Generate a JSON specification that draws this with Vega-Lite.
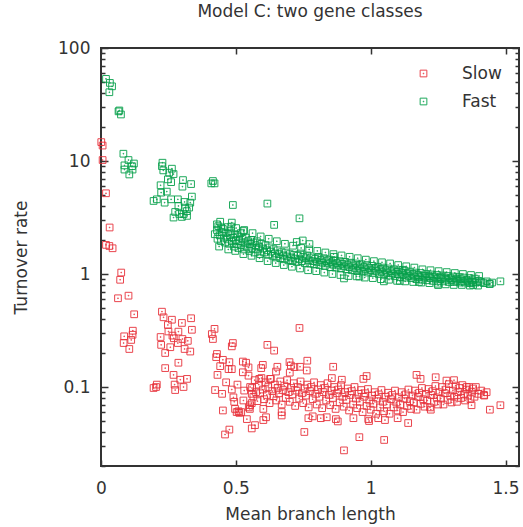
{
"$schema":"https://vega.github.io/schema/vega-lite/v6.json",
"width":418,"height":418,
"autosize":"none",
"padding":{"left":101,"top":48,"right":4,"bottom":61},
"title":{"text":"Model C: two gene classes","font":"DejaVu Sans","fontSize":17,"fontWeight":"normal","color":"#333","offset":18},
"config":{"view":{"stroke":"#333","strokeWidth":2},"font":"DejaVu Sans"},
"resolve":{"axis":{"x":"independent","y":"independent"}},
"datasets":{
"fast":[
{"x":0.0185,"y":53.3},{"x":0.033,"y":49.1},{"x":0.041,"y":45.8},{"x":0.031,"y":40.6},{"x":0.068,"y":28},{"x":0.074,"y":25.8},{"x":0.065,"y":27.5},
{"x":0.083,"y":11.6},{"x":0.102,"y":10.2},{"x":0.087,"y":9.15},{"x":0.115,"y":9.0},{"x":0.122,"y":9.5},{"x":0.087,"y":8.4},{"x":0.105,"y":7.6},{"x":0.117,"y":8.4},
{"x":0.228,"y":9.66},{"x":0.226,"y":9.0},{"x":0.231,"y":8.26},{"x":0.263,"y":8.55},{"x":0.253,"y":7.88},{"x":0.269,"y":7.66},{"x":0.248,"y":6.88},{"x":0.26,"y":6.5},{"x":0.304,"y":6.78},{"x":0.302,"y":5.93},{"x":0.334,"y":6.25},{"x":0.221,"y":6.1},{"x":0.223,"y":5.25},{"x":0.244,"y":5.36},{"x":0.26,"y":4.58},{"x":0.236,"y":4.28},{"x":0.195,"y":4.43},{"x":0.207,"y":4.58},{"x":0.285,"y":4.58},{"x":0.287,"y":4.0},{"x":0.31,"y":4.34},{"x":0.331,"y":4.28},{"x":0.337,"y":4.84},{"x":0.275,"y":3.54},{"x":0.312,"y":3.87},{"x":0.327,"y":3.87},{"x":0.269,"y":3.16},{"x":0.306,"y":3.38},{"x":0.319,"y":3.27},{"x":0.415,"y":6.65},{"x":0.421,"y":6.34},{"x":0.409,"y":6.34},{"x":0.489,"y":4.08},{"x":0.3,"y":3.2},{"x":0.29,"y":3.4},{"x":0.318,"y":3.6},
{"x":0.617,"y":4.2},{"x":0.736,"y":3.11},{"x":0.642,"y":2.72},{"x":0.726,"y":1.92},{"x":0.748,"y":1.98},{"x":0.773,"y":1.84},{"x":0.864,"y":1.42},
{"x":0.43,"y":2.75},{"x":0.422,"y":2.25},{"x":0.446,"y":2.58},{"x":0.483,"y":2.63},{"x":0.485,"y":2.85},{"x":0.528,"y":2.4},
{"x":0.430,"y":2.45},{"x":0.432,"y":2.05},{"x":0.435,"y":2.65},{"x":0.440,"y":2.2},{"x":0.445,"y":1.95},{"x":0.448,"y":2.35},{"x":0.452,"y":2.5},{"x":0.455,"y":2.1},{"x":0.46,"y":1.9},{"x":0.462,"y":2.3},{"x":0.468,"y":2.05},{"x":0.47,"y":2.6},{"x":0.475,"y":1.85},{"x":0.478,"y":2.2},{"x":0.482,"y":2.4},{"x":0.485,"y":1.95},{"x":0.49,"y":2.1},{"x":0.493,"y":1.75},{"x":0.497,"y":2.25},{"x":0.50,"y":2.0},{"x":0.503,"y":1.85},{"x":0.507,"y":2.15},{"x":0.51,"y":1.7},{"x":0.514,"y":1.95},{"x":0.518,"y":2.3},{"x":0.52,"y":1.8},{"x":0.525,"y":2.05},{"x":0.53,"y":1.65},{"x":0.533,"y":1.9},{"x":0.537,"y":2.1},{"x":0.54,"y":1.75},{"x":0.545,"y":1.95},{"x":0.55,"y":1.6},{"x":0.553,"y":1.85},{"x":0.557,"y":2.0},{"x":0.56,"y":1.7},{"x":0.565,"y":1.9},{"x":0.57,"y":1.55},{"x":0.573,"y":1.8},{"x":0.578,"y":1.95},{"x":0.582,"y":1.65},{"x":0.586,"y":1.75},{"x":0.59,"y":1.5},{"x":0.595,"y":1.85},{"x":0.60,"y":1.68},{"x":0.605,"y":1.55},{"x":0.61,"y":1.8},{"x":0.615,"y":1.62},{"x":0.62,"y":1.48},{"x":0.625,"y":1.72},{"x":0.63,"y":1.58},{"x":0.636,"y":1.45},{"x":0.64,"y":1.66},{"x":0.645,"y":1.52},{"x":0.65,"y":1.4},{"x":0.655,"y":1.62},{"x":0.66,"y":1.5},{"x":0.665,"y":1.38},{"x":0.67,"y":1.56},{"x":0.676,"y":1.46},{"x":0.68,"y":1.35},{"x":0.686,"y":1.55},{"x":0.69,"y":1.43},{"x":0.695,"y":1.32},{"x":0.70,"y":1.5},{"x":0.705,"y":1.4},{"x":0.71,"y":1.3},{"x":0.716,"y":1.48},{"x":0.72,"y":1.37},{"x":0.725,"y":1.28},{"x":0.73,"y":1.45},{"x":0.736,"y":1.35},{"x":0.74,"y":1.52},{"x":0.745,"y":1.3},{"x":0.75,"y":1.42},{"x":0.756,"y":1.25},{"x":0.76,"y":1.38},{"x":0.765,"y":1.46},{"x":0.77,"y":1.32},{"x":0.776,"y":1.24},{"x":0.78,"y":1.4},{"x":0.786,"y":1.3},{"x":0.79,"y":1.22},{"x":0.795,"y":1.36},{"x":0.80,"y":1.28},{"x":0.806,"y":1.42},{"x":0.81,"y":1.2},{"x":0.815,"y":1.33},{"x":0.82,"y":1.26},{"x":0.826,"y":1.38},{"x":0.83,"y":1.18},{"x":0.835,"y":1.3},{"x":0.84,"y":1.24},{"x":0.846,"y":1.34},{"x":0.85,"y":1.15},{"x":0.855,"y":1.27},{"x":0.86,"y":1.21},{"x":0.866,"y":1.32},{"x":0.87,"y":1.14},{"x":0.875,"y":1.25},{"x":0.88,"y":1.19},{"x":0.886,"y":1.3},{"x":0.89,"y":1.12},{"x":0.895,"y":1.23},{"x":0.90,"y":1.17},{"x":0.906,"y":1.28},{"x":0.91,"y":1.1},{"x":0.915,"y":1.21},{"x":0.92,"y":1.15},{"x":0.926,"y":1.26},{"x":0.93,"y":1.08},{"x":0.935,"y":1.19},{"x":0.94,"y":1.13},{"x":0.946,"y":1.24},{"x":0.95,"y":1.06},{"x":0.955,"y":1.17},{"x":0.96,"y":1.12},{"x":0.966,"y":1.22},{"x":0.97,"y":1.05},{"x":0.975,"y":1.15},{"x":0.98,"y":1.1},{"x":0.986,"y":1.2},{"x":0.99,"y":1.03},{"x":0.995,"y":1.13},{"x":1.00,"y":1.08},{"x":1.006,"y":1.18},{"x":1.01,"y":1.02},{"x":1.016,"y":1.12},{"x":1.02,"y":1.07},{"x":1.026,"y":1.16},{"x":1.03,"y":1.0},{"x":1.036,"y":1.1},{"x":1.04,"y":1.05},{"x":1.046,"y":1.14},{"x":1.05,"y":0.99},{"x":1.056,"y":1.08},{"x":1.06,"y":1.03},{"x":1.066,"y":1.12},{"x":1.07,"y":0.97},{"x":1.076,"y":1.06},{"x":1.08,"y":1.01},{"x":1.086,"y":1.1},{"x":1.09,"y":0.96},{"x":1.096,"y":1.05},{"x":1.10,"y":1.0},{"x":1.106,"y":1.08},{"x":1.11,"y":0.94},{"x":1.116,"y":1.03},{"x":1.12,"y":0.98},{"x":1.126,"y":1.07},{"x":1.13,"y":0.93},{"x":1.136,"y":1.01},{"x":1.14,"y":0.96},{"x":1.146,"y":1.05},{"x":1.15,"y":0.92},{"x":1.156,"y":1.0},{"x":1.16,"y":0.95},{"x":1.166,"y":1.03},{"x":1.17,"y":0.9},{"x":1.176,"y":0.98},{"x":1.18,"y":0.94},{"x":1.186,"y":1.02},{"x":1.19,"y":0.89},{"x":1.196,"y":0.97},{"x":1.20,"y":0.93},{"x":1.206,"y":1.0},{"x":1.21,"y":0.88},{"x":1.216,"y":0.96},{"x":1.22,"y":0.92},{"x":1.226,"y":0.99},{"x":1.23,"y":0.87},{"x":1.236,"y":0.95},{"x":1.24,"y":0.91},{"x":1.246,"y":0.98},{"x":1.25,"y":0.86},{"x":1.256,"y":0.94},{"x":1.26,"y":0.9},{"x":1.266,"y":0.97},{"x":1.27,"y":0.86},{"x":1.276,"y":0.93},{"x":1.28,"y":0.89},{"x":1.286,"y":0.96},{"x":1.29,"y":0.85},{"x":1.296,"y":0.92},{"x":1.30,"y":0.88},{"x":1.306,"y":0.95},{"x":1.31,"y":0.85},{"x":1.316,"y":0.91},{"x":1.32,"y":0.87},{"x":1.326,"y":0.94},{"x":1.33,"y":0.84},{"x":1.336,"y":0.9},{"x":1.34,"y":0.86},{"x":1.346,"y":0.93},{"x":1.35,"y":0.84},{"x":1.356,"y":0.89},{"x":1.36,"y":0.86},{"x":1.366,"y":0.92},{"x":1.37,"y":0.83},{"x":1.376,"y":0.88},{"x":1.38,"y":0.85},{"x":1.386,"y":0.91},{"x":1.39,"y":0.84},{"x":1.40,"y":0.87},{"x":1.41,"y":0.85},{"x":1.42,"y":0.83},{"x":1.43,"y":0.86},{"x":1.44,"y":0.82},{"x":1.45,"y":0.84},
{"x":0.901,"y":0.914},{"x":1.442,"y":0.815},{"x":1.481,"y":0.861},{"x":1.25,"y":0.798},{"x":1.38,"y":0.8},{"x":1.179,"y":0.85},{"x":1.049,"y":0.861},{"x":1.108,"y":0.87},{"x":1.118,"y":1.09},{"x":0.948,"y":0.953},
{"x":0.442,"y":2.9},{"x":0.438,"y":1.75},{"x":0.472,"y":1.65},{"x":0.501,"y":2.55},{"x":0.498,"y":1.6},{"x":0.531,"y":2.45},{"x":0.528,"y":1.5},{"x":0.562,"y":2.3},{"x":0.558,"y":1.45},{"x":0.592,"y":2.15},{"x":0.588,"y":1.38},{"x":0.622,"y":2.05},{"x":0.618,"y":1.3},{"x":0.652,"y":1.95},{"x":0.648,"y":1.25},{"x":0.682,"y":1.85},{"x":0.678,"y":1.2},{"x":0.712,"y":1.78},{"x":0.708,"y":1.16},{"x":0.742,"y":1.7},{"x":0.738,"y":1.12},{"x":0.772,"y":1.65},{"x":0.768,"y":1.08},{"x":0.802,"y":1.6},{"x":0.798,"y":1.06},{"x":0.832,"y":1.55},{"x":0.828,"y":1.03},{"x":0.862,"y":1.5},{"x":0.858,"y":1.0},{"x":0.892,"y":1.46},{"x":0.888,"y":0.98},{"x":0.922,"y":1.42},{"x":0.918,"y":0.96},{"x":0.952,"y":1.38},{"x":0.958,"y":0.95},{"x":0.982,"y":1.34},{"x":0.978,"y":0.93},{"x":1.012,"y":1.3},{"x":1.008,"y":0.92},{"x":1.042,"y":1.27},{"x":1.038,"y":0.9},{"x":1.072,"y":1.24},{"x":1.068,"y":0.89},{"x":1.102,"y":1.2},{"x":1.098,"y":0.87},{"x":1.132,"y":1.17},{"x":1.128,"y":0.86},{"x":1.162,"y":1.14},{"x":1.158,"y":0.85},{"x":1.192,"y":1.1},{"x":1.188,"y":0.84},{"x":1.222,"y":1.08},{"x":1.218,"y":0.83},{"x":1.252,"y":1.06},{"x":1.248,"y":0.82},{"x":1.282,"y":1.04},{"x":1.278,"y":0.81},{"x":1.312,"y":1.02},{"x":1.308,"y":0.8},{"x":1.342,"y":1.0},{"x":1.338,"y":0.8},{"x":1.372,"y":0.98},{"x":1.368,"y":0.79},{"x":1.402,"y":0.96},{"x":1.398,"y":0.79}
],
"slow":[
{"x":0.001,"y":14.7},{"x":0.006,"y":13.7},{"x":0.006,"y":10.2},{"x":0.0185,"y":5.18},{"x":0.032,"y":2.58},{"x":0.0185,"y":1.81},{"x":0.031,"y":1.77},{"x":0.043,"y":1.69},{"x":0.075,"y":1.03},{"x":0.071,"y":0.889},{"x":0.063,"y":0.61},{"x":0.102,"y":0.643},{"x":0.123,"y":0.44},{"x":0.118,"y":0.315},{"x":0.086,"y":0.281},{"x":0.084,"y":0.245},{"x":0.112,"y":0.261},{"x":0.105,"y":0.217},{"x":0.117,"y":0.29},
{"x":0.226,"y":0.464},{"x":0.232,"y":0.414},{"x":0.263,"y":0.394},{"x":0.248,"y":0.354},{"x":0.334,"y":0.406},{"x":0.3,"y":0.369},{"x":0.337,"y":0.321},{"x":0.287,"y":0.309},{"x":0.265,"y":0.285},{"x":0.221,"y":0.277},{"x":0.223,"y":0.236},{"x":0.257,"y":0.225},{"x":0.238,"y":0.2},{"x":0.302,"y":0.266},{"x":0.322,"y":0.256},{"x":0.31,"y":0.217},{"x":0.331,"y":0.206},{"x":0.287,"y":0.164},{"x":0.238,"y":0.147},{"x":0.269,"y":0.128},{"x":0.294,"y":0.116},{"x":0.319,"y":0.118},{"x":0.273,"y":0.105},{"x":0.306,"y":0.1},{"x":0.275,"y":0.094},{"x":0.207,"y":0.105},{"x":0.195,"y":0.098},{"x":0.204,"y":0.1},{"x":0.285,"y":0.245},{"x":0.27,"y":0.27},{"x":0.25,"y":0.31},
{"x":0.421,"y":0.327},{"x":0.411,"y":0.294},{"x":0.415,"y":0.266},{"x":0.489,"y":0.245},{"x":0.485,"y":0.229},{"x":0.43,"y":0.196},{"x":0.427,"y":0.184},{"x":0.442,"y":0.153},{"x":0.452,"y":0.174},{"x":0.476,"y":0.166},{"x":0.473,"y":0.144},{"x":0.485,"y":0.144},{"x":0.526,"y":0.168},{"x":0.538,"y":0.164},{"x":0.526,"y":0.135},{"x":0.432,"y":0.128},{"x":0.464,"y":0.11},{"x":0.506,"y":0.105},{"x":0.423,"y":0.094},{"x":0.449,"y":0.087},{"x":0.485,"y":0.095},{"x":0.531,"y":0.093},{"x":0.528,"y":0.076},{"x":0.491,"y":0.081},{"x":0.494,"y":0.074},{"x":0.51,"y":0.061},{"x":0.452,"y":0.062},{"x":0.476,"y":0.042},{"x":0.46,"y":0.038},{"x":0.547,"y":0.149},{"x":0.547,"y":0.126},{"x":0.553,"y":0.1},{"x":0.559,"y":0.087},{"x":0.553,"y":0.069},{"x":0.541,"y":0.052},{"x":0.559,"y":0.043},{"x":0.52,"y":0.06},{"x":0.559,"y":0.072},{"x":0.571,"y":0.046},{"x":0.612,"y":0.054},{"x":0.602,"y":0.051},{"x":0.67,"y":0.056},{"x":0.602,"y":0.064},{"x":0.67,"y":0.06},{"x":0.503,"y":0.06},{"x":0.497,"y":0.064},{"x":0.513,"y":0.059},{"x":0.548,"y":0.066},{"x":0.552,"y":0.064},
{"x":0.736,"y":0.333},{"x":0.617,"y":0.236},{"x":0.642,"y":0.21},{"x":0.6,"y":0.157},{"x":0.594,"y":0.147},{"x":0.654,"y":0.151},{"x":0.649,"y":0.137},{"x":0.699,"y":0.166},{"x":0.704,"y":0.155},{"x":0.717,"y":0.15},{"x":0.738,"y":0.151},{"x":0.765,"y":0.171},{"x":0.763,"y":0.14},{"x":0.7,"y":0.134},{"x":0.861,"y":0.151},{"x":0.587,"y":0.118},{"x":0.627,"y":0.118},{"x":0.856,"y":0.12},{"x":0.893,"y":0.116},{"x":0.973,"y":0.118},{"x":0.985,"y":0.125},{"x":1.17,"y":0.128},{"x":1.185,"y":0.118},{"x":1.241,"y":0.122},{"x":1.281,"y":0.114},{"x":1.309,"y":0.115},{"x":1.356,"y":0.1},{"x":1.421,"y":0.084},{"x":1.442,"y":0.063},{"x":1.481,"y":0.069},{"x":1.374,"y":0.069},{"x":1.223,"y":0.063},
{"x":0.754,"y":0.04},{"x":0.769,"y":0.053},{"x":0.785,"y":0.055},{"x":0.815,"y":0.053},{"x":0.837,"y":0.054},{"x":0.871,"y":0.052},{"x":0.878,"y":0.0496},{"x":0.936,"y":0.053},{"x":0.958,"y":0.036},{"x":0.901,"y":0.0275},{"x":0.991,"y":0.052},{"x":1.139,"y":0.048},{"x":1.1,"y":0.053},{"x":1.05,"y":0.034},{"x":1.053,"y":0.051},{"x":1.028,"y":0.053},{"x":0.994,"y":0.05},
{"x":0.56,"y":0.098},{"x":0.565,"y":0.082},{"x":0.57,"y":0.115},{"x":0.575,"y":0.09},{"x":0.58,"y":0.075},{"x":0.585,"y":0.105},{"x":0.59,"y":0.088},{"x":0.595,"y":0.12},{"x":0.60,"y":0.095},{"x":0.605,"y":0.078},{"x":0.61,"y":0.11},{"x":0.615,"y":0.085},{"x":0.62,"y":0.1},{"x":0.625,"y":0.072},{"x":0.63,"y":0.118},{"x":0.635,"y":0.092},{"x":0.64,"y":0.083},{"x":0.645,"y":0.105},{"x":0.65,"y":0.076},{"x":0.655,"y":0.098},{"x":0.66,"y":0.088},{"x":0.665,"y":0.112},{"x":0.67,"y":0.07},{"x":0.675,"y":0.094},{"x":0.68,"y":0.103},{"x":0.685,"y":0.08},{"x":0.69,"y":0.115},{"x":0.695,"y":0.09},{"x":0.70,"y":0.074},{"x":0.705,"y":0.098},{"x":0.71,"y":0.086},{"x":0.715,"y":0.108},{"x":0.72,"y":0.068},{"x":0.725,"y":0.093},{"x":0.73,"y":0.1},{"x":0.735,"y":0.079},{"x":0.74,"y":0.112},{"x":0.745,"y":0.088},{"x":0.75,"y":0.072},{"x":0.755,"y":0.097},{"x":0.76,"y":0.084},{"x":0.765,"y":0.105},{"x":0.77,"y":0.066},{"x":0.775,"y":0.092},{"x":0.78,"y":0.1},{"x":0.785,"y":0.078},{"x":0.79,"y":0.11},{"x":0.795,"y":0.087},{"x":0.80,"y":0.07},{"x":0.805,"y":0.095},{"x":0.81,"y":0.082},{"x":0.815,"y":0.104},{"x":0.82,"y":0.065},{"x":0.825,"y":0.09},{"x":0.83,"y":0.098},{"x":0.835,"y":0.076},{"x":0.84,"y":0.108},{"x":0.845,"y":0.085},{"x":0.85,"y":0.069},{"x":0.855,"y":0.093},{"x":0.86,"y":0.08},{"x":0.865,"y":0.1},{"x":0.87,"y":0.064},{"x":0.875,"y":0.088},{"x":0.88,"y":0.095},{"x":0.885,"y":0.073},{"x":0.89,"y":0.104},{"x":0.895,"y":0.082},{"x":0.90,"y":0.067},{"x":0.905,"y":0.09},{"x":0.91,"y":0.077},{"x":0.915,"y":0.097},{"x":0.92,"y":0.062},{"x":0.925,"y":0.085},{"x":0.93,"y":0.092},{"x":0.935,"y":0.07},{"x":0.94,"y":0.1},{"x":0.945,"y":0.079},{"x":0.95,"y":0.065},{"x":0.955,"y":0.087},{"x":0.96,"y":0.074},{"x":0.965,"y":0.094},{"x":0.97,"y":0.06},{"x":0.975,"y":0.082},{"x":0.98,"y":0.088},{"x":0.985,"y":0.068},{"x":0.99,"y":0.096},{"x":0.995,"y":0.076},{"x":1.00,"y":0.063},{"x":1.005,"y":0.084},{"x":1.01,"y":0.071},{"x":1.015,"y":0.09},{"x":1.02,"y":0.058},{"x":1.025,"y":0.079},{"x":1.03,"y":0.086},{"x":1.035,"y":0.066},{"x":1.04,"y":0.094},{"x":1.045,"y":0.074},{"x":1.05,"y":0.061},{"x":1.055,"y":0.082},{"x":1.06,"y":0.07},{"x":1.065,"y":0.089},{"x":1.07,"y":0.058},{"x":1.075,"y":0.078},{"x":1.08,"y":0.085},{"x":1.085,"y":0.066},{"x":1.09,"y":0.093},{"x":1.095,"y":0.073},{"x":1.10,"y":0.062},{"x":1.105,"y":0.081},{"x":1.11,"y":0.07},{"x":1.115,"y":0.09},{"x":1.12,"y":0.06},{"x":1.125,"y":0.079},{"x":1.13,"y":0.086},{"x":1.135,"y":0.068},{"x":1.14,"y":0.095},{"x":1.145,"y":0.075},{"x":1.15,"y":0.064},{"x":1.155,"y":0.084},{"x":1.16,"y":0.073},{"x":1.165,"y":0.093},{"x":1.17,"y":0.063},{"x":1.175,"y":0.082},{"x":1.18,"y":0.089},{"x":1.185,"y":0.071},{"x":1.19,"y":0.098},{"x":1.195,"y":0.078},{"x":1.20,"y":0.067},{"x":1.205,"y":0.087},{"x":1.21,"y":0.076},{"x":1.215,"y":0.096},{"x":1.22,"y":0.066},{"x":1.225,"y":0.085},{"x":1.23,"y":0.092},{"x":1.235,"y":0.074},{"x":1.24,"y":0.102},{"x":1.245,"y":0.081},{"x":1.25,"y":0.07},{"x":1.255,"y":0.09},{"x":1.26,"y":0.079},{"x":1.265,"y":0.1},{"x":1.27,"y":0.07},{"x":1.275,"y":0.088},{"x":1.28,"y":0.095},{"x":1.285,"y":0.077},{"x":1.29,"y":0.106},{"x":1.295,"y":0.084},{"x":1.30,"y":0.073},{"x":1.305,"y":0.093},{"x":1.31,"y":0.082},{"x":1.315,"y":0.103},{"x":1.32,"y":0.074},{"x":1.325,"y":0.09},{"x":1.33,"y":0.098},{"x":1.335,"y":0.08},{"x":1.34,"y":0.104},{"x":1.345,"y":0.086},{"x":1.35,"y":0.076},{"x":1.355,"y":0.095},{"x":1.36,"y":0.084},{"x":1.365,"y":0.1},{"x":1.37,"y":0.078},{"x":1.375,"y":0.091},{"x":1.38,"y":0.097},{"x":1.385,"y":0.082},{"x":1.39,"y":0.1},{"x":1.40,"y":0.087},{"x":1.41,"y":0.093},{"x":1.42,"y":0.085},{"x":1.43,"y":0.09}
]
},
"layer":[
{
"encoding":{
"x":{"field":"x","type":"quantitative","scale":{"domain":[0,1.55],"nice":false,"zero":false},
 "axis":{"orient":"bottom","values":[0,0.5,1,1.5],"title":"Mean branch length","labelFont":"DejaVu Sans","labelFontSize":17,"labelColor":"#333","titleFont":"DejaVu Sans","titleFontSize":17,"titleFontWeight":"normal","titleColor":"#333","tickSize":-6,"tickWidth":1.5,"tickColor":"#333","labelPadding":20,"titlePadding":10,"domain":false,"grid":false,"labelFlush":false,"labelExpr":"datum.value == 0 ? '0' : datum.value == 0.5 ? '0.5' : datum.value == 1 ? '1' : '1.5'"}},
"y":{"field":"y","type":"quantitative","scale":{"type":"log","domain":[0.02,100],"nice":false},
 "axis":{"orient":"left","values":[0.02,0.03,0.04,0.05,0.06,0.07,0.08,0.09,0.1,0.2,0.3,0.4,0.5,0.6,0.7,0.8,0.9,1,2,3,4,5,6,7,8,9,10,20,30,40,50,60,70,80,90,100],
 "labelExpr":"datum.value == 0.1 ? '0.1' : datum.value == 1 ? '1' : datum.value == 10 ? '10' : datum.value == 100 ? '100' : ''",
 "title":"Turnover rate","labelFont":"DejaVu Sans","labelFontSize":17,"labelColor":"#333","titleFont":"DejaVu Sans","titleFontSize":17,"titleFontWeight":"normal","titleColor":"#333",
 "tickSize":{"condition":{"test":"datum.value == 0.1 || datum.value == 1 || datum.value == 10 || datum.value == 100","value":-7},"value":-4},
 "tickWidth":1.5,"tickColor":"#333","labelPadding":18,"titlePadding":27,"domain":false,"grid":false,"labelFlush":false,"labelOverlap":false}}
},
"layer":[
{
"data":{"name":"slow"},
"mark":{"type":"point","shape":"M-1,-1H1V1H-1Z M-0.1,-0.1H0.1V0.1H-0.1Z","filled":false,"size":45,"strokeWidth":1,"opacity":0.9},
"encoding":{
"color":{"datum":"Slow","scale":{"domain":["Slow","Fast"],"range":["#e8323b","#07a04b"]},
 "legend":{"title":null,"orient":"top-right","offset":17,"symbolType":"M-1,-1H1V1H-1Z M-0.1,-0.1H0.1V0.1H-0.1Z","symbolSize":45,"symbolStrokeWidth":1,"labelFont":"DejaVu Sans","labelFontSize":17,"labelColor":"#333","labelOffset":30,"rowPadding":10}}
}
},
{
"data":{"name":"fast"},
"mark":{"type":"point","shape":"M-1,-1H1V1H-1Z M-0.1,-0.1H0.1V0.1H-0.1Z","filled":false,"size":45,"strokeWidth":1,"opacity":0.9},
"encoding":{"color":{"datum":"Fast"}}
}
]
},
{
"data":{"name":"slow"},
"mark":{"type":"point","opacity":0},
"encoding":{
"x":{"field":"x","type":"quantitative","axis":{"orient":"top","values":[0,0.5,1,1.5],"labels":false,"title":null,"tickSize":-6,"tickWidth":1.5,"tickColor":"#333","domain":false,"grid":false}},
"y":{"field":"y","type":"quantitative","axis":{"orient":"right","values":[0.02,0.03,0.04,0.05,0.06,0.07,0.08,0.09,0.1,0.2,0.3,0.4,0.5,0.6,0.7,0.8,0.9,1,2,3,4,5,6,7,8,9,10,20,30,40,50,60,70,80,90,100],"labels":false,"title":null,
 "tickSize":{"condition":{"test":"datum.value == 0.1 || datum.value == 1 || datum.value == 10 || datum.value == 100","value":-7},"value":-4},
 "tickWidth":1.5,"tickColor":"#333","domain":false,"grid":false}}
}
}
]
}
